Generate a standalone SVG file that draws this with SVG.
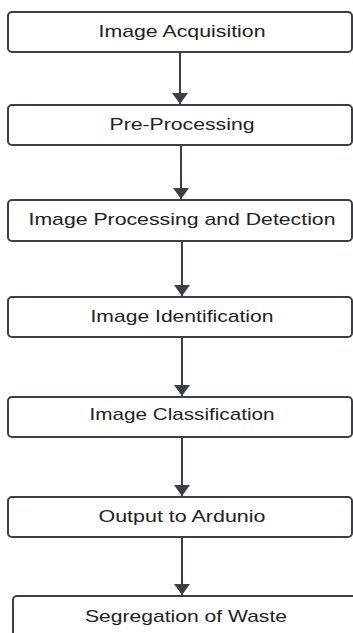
<svg xmlns="http://www.w3.org/2000/svg" width="353" height="633" viewBox="0 0 353 633">
<style>
.box{fill:#ffffff;stroke:#3b4048;stroke-width:2}
.lbl{font-family:"Liberation Sans",Arial,sans-serif;font-size:17px;fill:#222;text-anchor:middle}
.conn{stroke:#3b4048;stroke-width:2;fill:none}
</style>
<defs>
<marker id="ah" markerWidth="5.5" markerHeight="8" refX="5.5" refY="4" orient="auto" markerUnits="strokeWidth">
<path d="M0,0 L5.5,4 L0,8 Z" fill="#3b4048"/>
</marker>
</defs>
<rect width="353" height="633" fill="#ffffff"/>
<g id="connectors">
<line class="conn" x1="180" y1="53" x2="180" y2="104" marker-end="url(#ah)"/>
<line class="conn" x1="181" y1="146" x2="181" y2="199" marker-end="url(#ah)"/>
<line class="conn" x1="182" y1="242" x2="182" y2="296" marker-end="url(#ah)"/>
<line class="conn" x1="182" y1="338" x2="182" y2="396" marker-end="url(#ah)"/>
<line class="conn" x1="182" y1="438" x2="182" y2="496" marker-end="url(#ah)"/>
<line class="conn" x1="182" y1="538" x2="182" y2="595" marker-end="url(#ah)"/>
</g>
<g id="n1"><rect class="box" x="8" y="12" width="344" height="40" rx="4"/><text class="lbl" x="182" y="37" textLength="167" lengthAdjust="spacingAndGlyphs">Image Acquisition</text></g>
<g id="n2"><rect class="box" x="8" y="105" width="344" height="40" rx="4"/><text class="lbl" x="182" y="130" textLength="145" lengthAdjust="spacingAndGlyphs">Pre-Processing</text></g>
<g id="n3"><rect class="box" x="8" y="200" width="344" height="41" rx="4"/><text class="lbl" x="182" y="225" textLength="307" lengthAdjust="spacingAndGlyphs">Image Processing and Detection</text></g>
<g id="n4"><rect class="box" x="8" y="297" width="344" height="40" rx="4"/><text class="lbl" x="182" y="322" textLength="183" lengthAdjust="spacingAndGlyphs">Image Identification</text></g>
<g id="n5"><rect class="box" x="8" y="397" width="344" height="40" rx="4"/><text class="lbl" x="182" y="420" textLength="185" lengthAdjust="spacingAndGlyphs">Image Classification</text></g>
<g id="n6"><rect class="box" x="8" y="497" width="344" height="40" rx="4"/><text class="lbl" x="182" y="522" textLength="167" lengthAdjust="spacingAndGlyphs">Output to Ardunio</text></g>
<g id="n7"><rect class="box" x="13" y="596" width="345" height="50" rx="4"/><text class="lbl" x="186" y="622" textLength="202" lengthAdjust="spacingAndGlyphs">Segregation of Waste</text></g>
</svg>
